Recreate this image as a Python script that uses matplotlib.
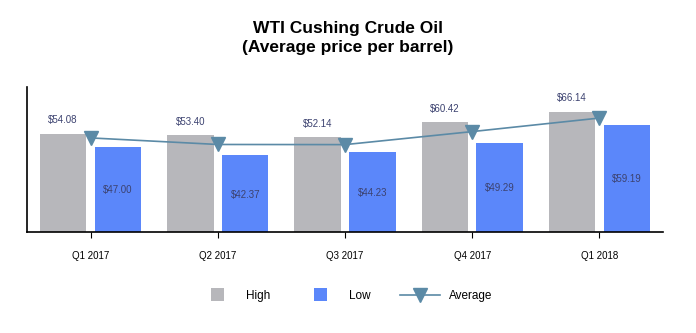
import matplotlib.pyplot as plt
import numpy as np
from matplotlib.lines import Line2D
from matplotlib.patches import Patch, Rectangle
from matplotlib.legend_handler import HandlerPatch

plt.rcParams['font.family'] = ['Liberation Sans', 'DejaVu Sans']

categories = ['Q1 2017', 'Q2 2017', 'Q3 2017', 'Q4 2017', 'Q1 2018']
high = [54.08, 53.40, 52.14, 60.42, 66.14]
low = [47.00, 42.37, 44.23, 49.29, 59.19]
average = [51.91, 48.29, 48.21, 55.40, 62.87]

c_high = '#b7b7bb'
c_low = '#5b87fa'
c_avg = '#5b8aa6'
c_lbl = '#3c4270'

fig = plt.figure(figsize=(6.96, 3.33), dpi=100)
ax = fig.add_axes([27/696, 1-232/333, (663-27)/696, (232-87)/333])

x = np.arange(len(categories))
off = 0.216
w = 0.365
ax.bar(x - off, high, width=w, color=c_high)
ax.bar(x + off, low, width=w, color=c_low)
ax.plot(x, average, color=c_avg, lw=1.2, marker='v', markersize=10, zorder=3)

for xi, h in zip(x, high):
    ax.text(xi - off, h + 4.8, f'${h:.2f}', ha='center', va='bottom', fontsize=7, color=c_lbl)
for xi, l in zip(x, low):
    ax.text(xi + off, l / 2 - 0.5, f'${l:.2f}', ha='center', va='center', fontsize=7, color=c_lbl)

ax.set_xlim(-0.5, 4.5)
ax.set_ylim(0, 80)
ax.set_xticks(x)
ax.set_xticklabels(categories, fontsize=7)
ax.tick_params(axis='x', length=4, pad=10)
ax.set_yticks([])
for s in ['top', 'right']:
    ax.spines[s].set_visible(False)
ax.spines['left'].set_linewidth(1.2)
ax.spines['bottom'].set_linewidth(1.2)

fig.text(0.5, 1-38/333, 'WTI Cushing Crude Oil\n(Average price per barrel)', ha='center', va='center',
         fontsize=12.5, fontweight='bold', linespacing=1.35)


class SquareHandler(HandlerPatch):
    def create_artists(self, legend, orig_handle, xdescent, ydescent, width, height, fontsize, trans):
        s = 9.5
        cx = -xdescent + width / 2
        cy = -ydescent + height / 2
        r = Rectangle((cx - s / 2, cy - s / 2), s, s, facecolor=orig_handle.get_facecolor(),
                      edgecolor='none', transform=trans)
        return [r]


h_high = Patch(color=c_high)
h_low = Patch(color=c_low)
h_avg = Line2D([], [], color=c_avg, marker='v', markersize=10, lw=1.2)
fig.legend([h_high, h_low, h_avg], ['High', 'Low', 'Average'], loc='center',
           bbox_to_anchor=(345/696, 1-296/333),
           handler_map={h_high: SquareHandler(), h_low: SquareHandler()},
           ncol=3, frameon=False, fontsize=8.5, handlelength=3.4, handletextpad=0.76,
           columnspacing=2.5)

fig.savefig('out.png', dpi=100)
